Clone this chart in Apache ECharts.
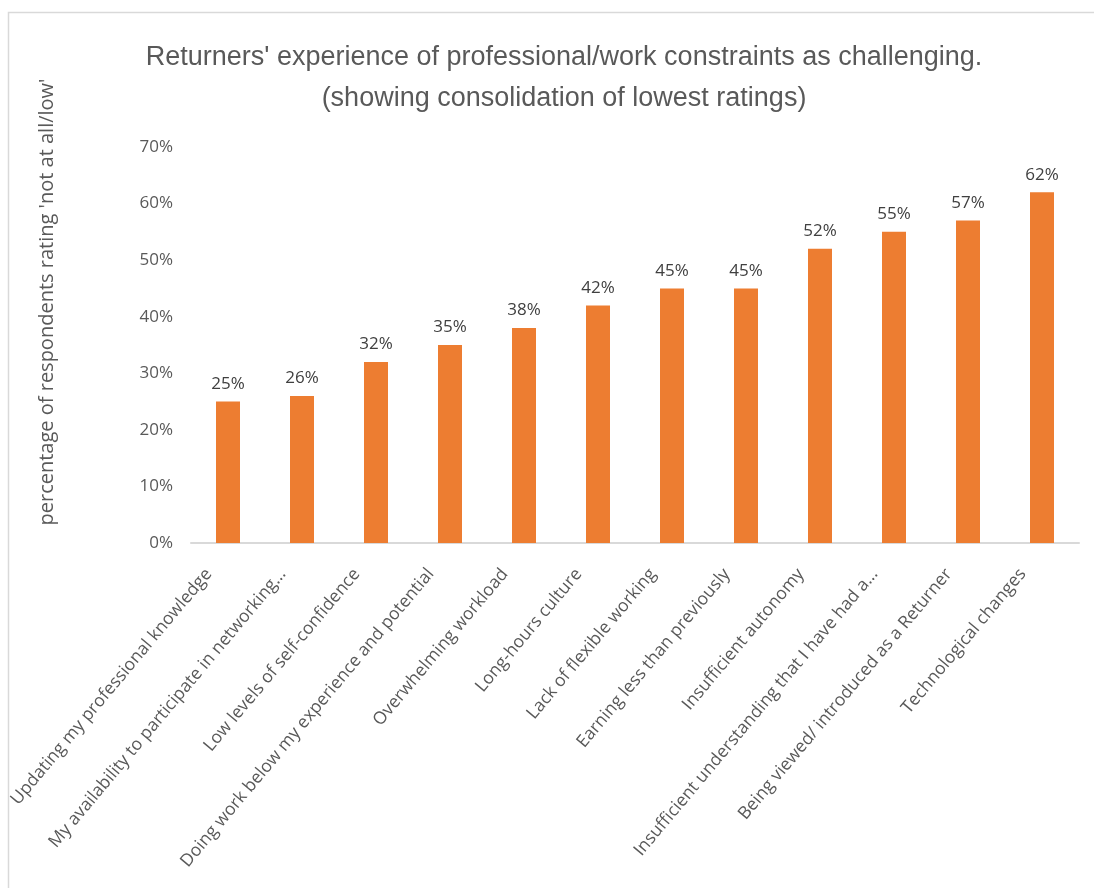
<!DOCTYPE html>
<html>
<head>
<meta charset="utf-8">
<script src="https://cdn.jsdelivr.net/npm/echarts@6/dist/echarts.min.js"></script>
<style>
  html, body { margin: 0; padding: 0; background: #fff; }
  #chart { width: 1094px; height: 888px; }
</style>
</head>
<body>
<div id="chart"></div>
<script>
// Constraint categories, ordered from least to most often rated 'not at all/low'
const categories = [
  'Updating my professional knowledge',
  'My availability to participate in networking...',
  'Low levels of self-confidence',
  'Doing work below my experience and potential',
  'Overwhelming workload',
  'Long-hours culture',
  'Lack of flexible working',
  'Earning less than previously',
  'Insufficient autonomy',
  'Insufficient understanding that I have had a...',
  'Being viewed/ introduced as a Returner',
  'Technological changes'
];

// Percentage of respondents per constraint
const percentages = [25, 26, 32, 35, 38, 42, 45, 45, 52, 55, 57, 62];

// Value axis ticks (percent)
const yTicks = [0, 10, 20, 30, 40, 50, 60, 70];

const titleLines = [
  "Returners' experience of professional/work constraints as challenging.",
  '(showing consolidation of lowest ratings)'
];
const yAxisTitle = "percentage of respondents rating 'not at all/low'";

const FONT = "'Liberation Sans', sans-serif";
const BODY_FONT = "'Open Sans', 'Liberation Sans', sans-serif";

const chart = echarts.init(document.getElementById('chart'), null, { renderer: 'canvas' });

chart.setOption({
  backgroundColor: '#ffffff',
  animation: false,
  graphic: [
    {
      // outer chart frame
      type: 'rect',
      silent: true,
      shape: { x: 8.5, y: 12.5, width: 1200, height: 1000 },
      style: { fill: 'none', stroke: '#d9d9d9', lineWidth: 1.5 }
    },
    {
      // value axis title, rotated
      type: 'text',
      silent: true,
      x: 47,
      y: 302,
      rotation: Math.PI / 2,
      style: {
        text: yAxisTitle,
        fontFamily: BODY_FONT,
        fontSize: 20,
        fill: '#595959',
        align: 'center',
        verticalAlign: 'middle'
      }
    }
  ],
  title: {
    text: titleLines.join('\n'),
    left: 559,
    textAlign: 'center',
    top: 32,
    textStyle: {
      fontFamily: FONT,
      fontSize: 27,
      fontWeight: 'normal',
      color: '#595959',
      lineHeight: 41
    }
  },
  grid: {
    left: 191,
    right: 15,
    top: 147,
    bottom: 345,
    containLabel: false
  },
  xAxis: {
    type: 'category',
    data: categories,
    axisLine: { lineStyle: { color: '#d9d9d9', width: 2 } },
    axisTick: { show: false },
    axisLabel: {
      rotate: 50,
      interval: 0,
      margin: 5,
      padding: [0, 30, 16, 0],
      fontFamily: BODY_FONT,
      fontSize: 17.5,
      color: '#595959'
    }
  },
  yAxis: {
    type: 'value',
    min: 0,
    max: 70,
    interval: 10,
    axisLine: { show: false },
    axisTick: { show: false },
    splitLine: { show: false },
    axisLabel: {
      margin: 18,
      fontFamily: BODY_FONT,
      fontSize: 17,
      color: '#595959',
      formatter: v => (yTicks.includes(v) ? v + '%' : '')
    }
  },
  series: [{
    type: 'bar',
    data: percentages,
    barWidth: 24,
    itemStyle: { color: '#ED7D31' },
    label: {
      show: true,
      position: 'top',
      distance: 9,
      fontFamily: BODY_FONT,
      fontSize: 17,
      color: '#404040',
      formatter: p => p.value + '%'
    }
  }]
});
</script>
</body>
</html>
